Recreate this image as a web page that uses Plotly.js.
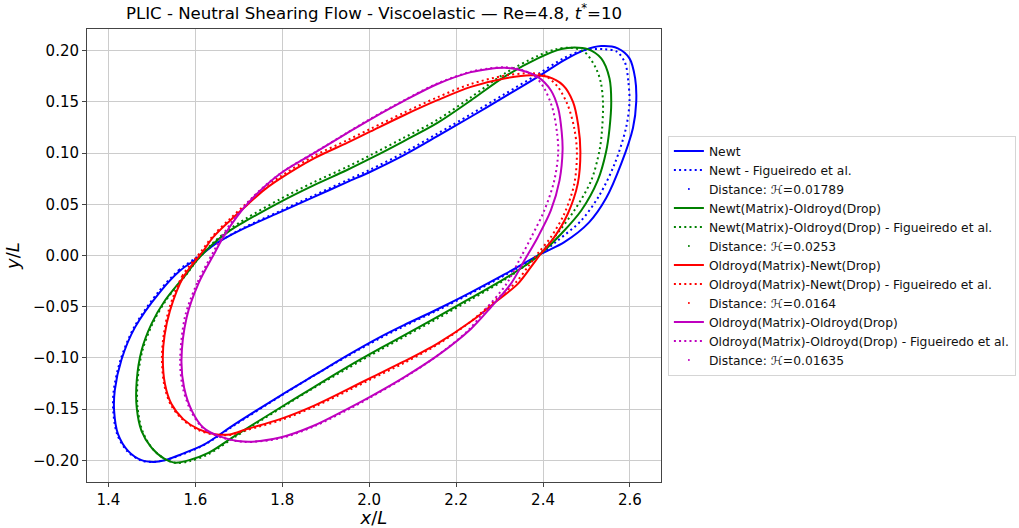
<!DOCTYPE html>
<html>
<head>
<meta charset="utf-8">
<script src="https://cdn.plot.ly/plotly-3.0.1.min.js"></script>
<style>html,body{margin:0;padding:0;background:#fff;}#chart{width:1019px;height:528px;}</style>
</head>
<body>
<div id="chart"></div>
<script>
// ---- Data ----
const seriesNames = ["Newt", "Newt(Matrix)-Oldroyd(Drop)", "Oldroyd(Matrix)-Newt(Drop)", "Oldroyd(Matrix)-Oldroyd(Drop)"];
const hausdorff = ["0.01789", "0.0253", "0.0164", "0.01635"];
const xTicks = [1.4, 1.6, 1.8, 2.0, 2.2, 2.4, 2.6];
const yTicks = [-0.20, -0.15, -0.10, -0.05, 0.00, 0.05, 0.10, 0.15, 0.20];

// Newt - simulation
const newtX = [1.603,1.565,1.518,1.461,1.430,1.4145,1.413,1.422,1.445,1.476,1.503,1.530,1.568,1.622,1.691,1.795,1.872,1.949,2.026,2.080,2.157,2.234,2.311,2.395,2.449,2.506,2.545,2.580,2.607,2.6145,2.612,2.599,2.572,2.534,2.495,2.449,2.388,2.311,2.234,2.157,2.080,2.003,1.949,1.872,1.795,1.718,1.680,1.641,1.603];
const newtY = [-0.0032,-0.0147,-0.0359,-0.0702,-0.1016,-0.1318,-0.1517,-0.1745,-0.1908,-0.1999,-0.2016,-0.1999,-0.1940,-0.1842,-0.1647,-0.1370,-0.1174,-0.0978,-0.0795,-0.0680,-0.0525,-0.0360,-0.0185,0.0015,0.0130,0.0323,0.0558,0.0897,0.1246,0.1500,0.1729,0.1925,0.2023,0.2045,0.2006,0.1908,0.1745,0.1549,0.1355,0.1165,0.0980,0.0818,0.0717,0.0570,0.0424,0.0277,0.0196,0.0098,-0.0032];
// Newt - Figueiredo et al.
const newtRefX = [1.602,1.563,1.516,1.459,1.428,1.412,1.411,1.420,1.443,1.474,1.501,1.528,1.566,1.620,1.689,1.793,1.870,1.947,2.024,2.078,2.155,2.232,2.309,2.390,2.434,2.488,2.530,2.565,2.591,2.599,2.596,2.589,2.570,2.540,2.495,2.449,2.388,2.311,2.234,2.157,2.080,2.003,1.949,1.872,1.795,1.718,1.680,1.641,1.602];
const newtRefY = [-0.002,-0.014,-0.035,-0.070,-0.1016,-0.132,-0.152,-0.1745,-0.191,-0.200,-0.2016,-0.200,-0.195,-0.185,-0.166,-0.138,-0.118,-0.099,-0.081,-0.0695,-0.054,-0.0375,-0.020,0.000,0.0147,0.0342,0.059,0.0897,0.1246,0.150,0.171,0.188,0.199,0.2015,0.2005,0.193,0.177,0.1575,0.138,0.119,0.1005,0.084,0.0735,0.0585,0.0435,0.0285,0.020,0.010,-0.002];

// Newt(Matrix)-Oldroyd(Drop)
const noX = [1.603,1.580,1.530,1.499,1.476,1.465,1.465,1.476,1.499,1.530,1.553,1.584,1.630,1.691,1.795,1.872,1.949,2.026,2.080,2.157,2.234,2.311,2.365,2.403,2.442,2.488,2.526,2.545,2.553,2.557,2.553,2.534,2.503,2.472,2.442,2.388,2.311,2.234,2.157,2.080,2.003,1.949,1.872,1.795,1.718,1.680,1.641,1.603];
const noY = [-0.0049,-0.0176,-0.0440,-0.0668,-0.0930,-0.1223,-0.1484,-0.1712,-0.1876,-0.1989,-0.2023,-0.2001,-0.1928,-0.1761,-0.1487,-0.1287,-0.1090,-0.0905,-0.0780,-0.0600,-0.0415,-0.0228,-0.0081,0.0049,0.0212,0.0440,0.0734,0.1011,0.1240,0.1500,0.1729,0.1925,0.2016,0.2032,0.2016,0.1925,0.1745,0.1515,0.1295,0.1118,0.0948,0.0835,0.0685,0.0522,0.0342,0.0245,0.0114,-0.0049];
const noRefX = [1.605,1.582,1.532,1.501,1.478,1.467,1.467,1.478,1.501,1.532,1.555,1.586,1.630,1.690,1.793,1.870,1.947,2.024,2.078,2.155,2.232,2.309,2.360,2.395,2.426,2.472,2.511,2.530,2.536,2.538,2.533,2.522,2.495,2.464,2.430,2.388,2.311,2.234,2.157,2.080,2.003,1.949,1.872,1.795,1.718,1.680,1.641,1.605];
const noRefY = [-0.004,-0.017,-0.044,-0.067,-0.093,-0.1223,-0.1484,-0.1712,-0.1885,-0.1995,-0.2025,-0.2010,-0.1940,-0.1775,-0.150,-0.130,-0.111,-0.0925,-0.080,-0.062,-0.0435,-0.0245,-0.0095,0.003,0.0179,0.044,0.0734,0.1027,0.124,0.150,0.169,0.1827,0.199,0.2029,0.2015,0.195,0.1775,0.1545,0.1325,0.115,0.098,0.0865,0.0715,0.055,0.0365,0.026,0.0125,-0.004];

// Oldroyd(Matrix)-Newt(Drop)
const onX = [1.618,1.572,1.5415,1.529,1.525,1.530,1.545,1.572,1.607,1.645,1.680,1.718,1.795,1.872,1.949,2.003,2.080,2.157,2.234,2.295,2.342,2.372,2.395,2.426,2.457,2.480,2.486,2.481,2.469,2.446,2.411,2.372,2.311,2.234,2.157,2.080,2.003,1.949,1.872,1.795,1.757,1.718,1.680,1.641,1.618];
const onY = [0.0044,-0.0212,-0.0538,-0.0783,-0.0995,-0.1255,-0.1451,-0.1598,-0.1696,-0.1745,-0.1747,-0.1696,-0.1598,-0.1468,-0.1310,-0.1195,-0.1035,-0.0860,-0.0645,-0.0440,-0.0277,-0.0114,0.0017,0.0179,0.0408,0.0702,0.1011,0.1272,0.1500,0.1663,0.1745,0.1761,0.1729,0.1647,0.1517,0.1370,0.1212,0.1100,0.0946,0.0750,0.0636,0.0489,0.0342,0.0179,0.0044];
const onRefX = [1.616,1.570,1.539,1.527,1.523,1.528,1.543,1.570,1.605,1.643,1.680,1.718,1.795,1.872,1.949,2.003,2.080,2.157,2.232,2.292,2.338,2.367,2.390,2.418,2.449,2.472,2.478,2.472,2.457,2.434,2.405,2.372,2.311,2.234,2.157,2.080,2.003,1.949,1.872,1.795,1.757,1.718,1.680,1.641,1.616];
const onRefY = [0.0055,-0.020,-0.053,-0.078,-0.0995,-0.1255,-0.1455,-0.160,-0.170,-0.175,-0.1752,-0.1705,-0.161,-0.148,-0.1325,-0.121,-0.105,-0.087,-0.065,-0.043,-0.026,-0.010,0.003,0.0179,0.0408,0.0702,0.1011,0.124,0.1468,0.1647,0.1755,0.178,0.1755,0.1675,0.1545,0.1395,0.1237,0.1125,0.097,0.077,0.066,0.051,0.036,0.0195,0.0055];

// Oldroyd(Matrix)-Oldroyd(Drop)
const ooX = [1.645,1.607,1.580,1.568,1.574,1.592,1.618,1.653,1.711,1.795,1.872,1.949,2.003,2.080,2.157,2.234,2.280,2.326,2.357,2.388,2.418,2.438,2.445,2.443,2.435,2.418,2.388,2.349,2.311,2.272,2.234,2.157,2.080,2.003,1.949,1.872,1.795,1.734,1.695,1.664,1.645];
const ooY = [0.0030,-0.0274,-0.0603,-0.1027,-0.1289,-0.1517,-0.1680,-0.1761,-0.1817,-0.1778,-0.1663,-0.1500,-0.1378,-0.1190,-0.0978,-0.0717,-0.0506,-0.0277,-0.0049,0.0179,0.0440,0.0734,0.1027,0.1207,0.1435,0.1614,0.1745,0.1810,0.1833,0.1820,0.1791,0.1675,0.1510,0.1330,0.1195,0.0998,0.0799,0.0570,0.0375,0.0179,0.0030];
const ooRefX = [1.642,1.604,1.576,1.565,1.571,1.590,1.616,1.652,1.711,1.795,1.872,1.949,2.003,2.078,2.153,2.228,2.272,2.316,2.345,2.373,2.403,2.426,2.435,2.432,2.422,2.403,2.380,2.345,2.311,2.272,2.234,2.157,2.080,2.003,1.949,1.872,1.795,1.732,1.692,1.660,1.642];
const ooRefY = [0.004,-0.027,-0.060,-0.1027,-0.129,-0.152,-0.168,-0.1765,-0.182,-0.1785,-0.167,-0.151,-0.1385,-0.120,-0.099,-0.073,-0.0506,-0.0277,-0.0049,0.0179,0.044,0.0734,0.1011,0.1207,0.1435,0.1631,0.1755,0.182,0.1838,0.1825,0.1795,0.168,0.1515,0.1335,0.1198,0.1000,0.0800,0.057,0.0375,0.0179,0.004];

// ---- Build traces ----
const colors = ["#0000ff", "#008000", "#ff0000", "#bf00bf"];
const sims = [[newtX, newtY], [noX, noY], [onX, onY], [ooX, ooY]];
const refs = [[newtRefX, newtRefY], [noRefX, noRefY], [onRefX, onRefY], [ooRefX, ooRefY]];
const traces = [];
for (let i = 0; i < 4; i++) {
  traces.push({x: sims[i][0], y: sims[i][1], mode: "lines", name: seriesNames[i],
    line: {color: colors[i], width: 2, shape: "spline", smoothing: 0.9}});
  traces.push({x: refs[i][0], y: refs[i][1], mode: "lines", name: seriesNames[i] + " - Figueiredo et al.",
    line: {color: colors[i], width: 2, dash: "2px,3.2px", shape: "spline", smoothing: 0.9}});
  traces.push({x: [null], y: [null], mode: "markers", name: "Distance: \u210B=" + hausdorff[i],
    marker: {color: colors[i], size: 2}});
}

const font = "DejaVu Sans, sans-serif";
const layout = {
  width: 1019, height: 528,
  margin: {l: 87, r: 358, t: 29, b: 46, pad: 0, autoexpand: false},
  paper_bgcolor: "#ffffff", plot_bgcolor: "#ffffff",
  font: {family: font, color: "#000"},
  title: {text: "PLIC - Neutral Shearing Flow - Viscoelastic \u2014 Re=4.8, <i>t</i><sup>*</sup>=10",
    x: 0.5, xref: "paper", xanchor: "center", y: 0.975, yref: "container", yanchor: "middle",
    font: {family: font, size: 16.6, color: "#000"}},
  xaxis: {range: [1.3506, 2.6715], tickvals: xTicks, tickformat: ".1f",
    showgrid: true, gridcolor: "#cccccc", gridwidth: 1, zeroline: false,
    showline: true, mirror: true, linecolor: "#444", linewidth: 1,
    ticks: "outside", ticklen: 4, tickcolor: "#444", tickwidth: 1,
    tickfont: {family: font, size: 15, color: "#000"},
    title: {text: "<i>x</i>/<i>L</i>", font: {family: font, size: 18, color: "#000"}, standoff: 6}},
  yaxis: {range: [-0.2212, 0.2212], tickvals: yTicks, tickformat: ".2f",
    showgrid: true, gridcolor: "#cccccc", gridwidth: 1, zeroline: false,
    showline: true, mirror: true, linecolor: "#444", linewidth: 1,
    ticks: "outside", ticklen: 4, tickcolor: "#444", tickwidth: 1,
    tickfont: {family: font, size: 15, color: "#000"},
    title: {text: "<i>y</i>/<i>L</i>", font: {family: font, size: 18, color: "#000"}, standoff: 8}},
  showlegend: true,
  legend: {x: 1.012, xanchor: "left", y: 0.5, yanchor: "middle",
    font: {family: font, size: 12.3, color: "#111"},
    bgcolor: "#ffffff", bordercolor: "#d5d5d5", borderwidth: 1, tracegroupgap: 0}
};
Plotly.newPlot("chart", traces, layout, {displayModeBar: false, staticPlot: true});
</script>
</body>
</html>
